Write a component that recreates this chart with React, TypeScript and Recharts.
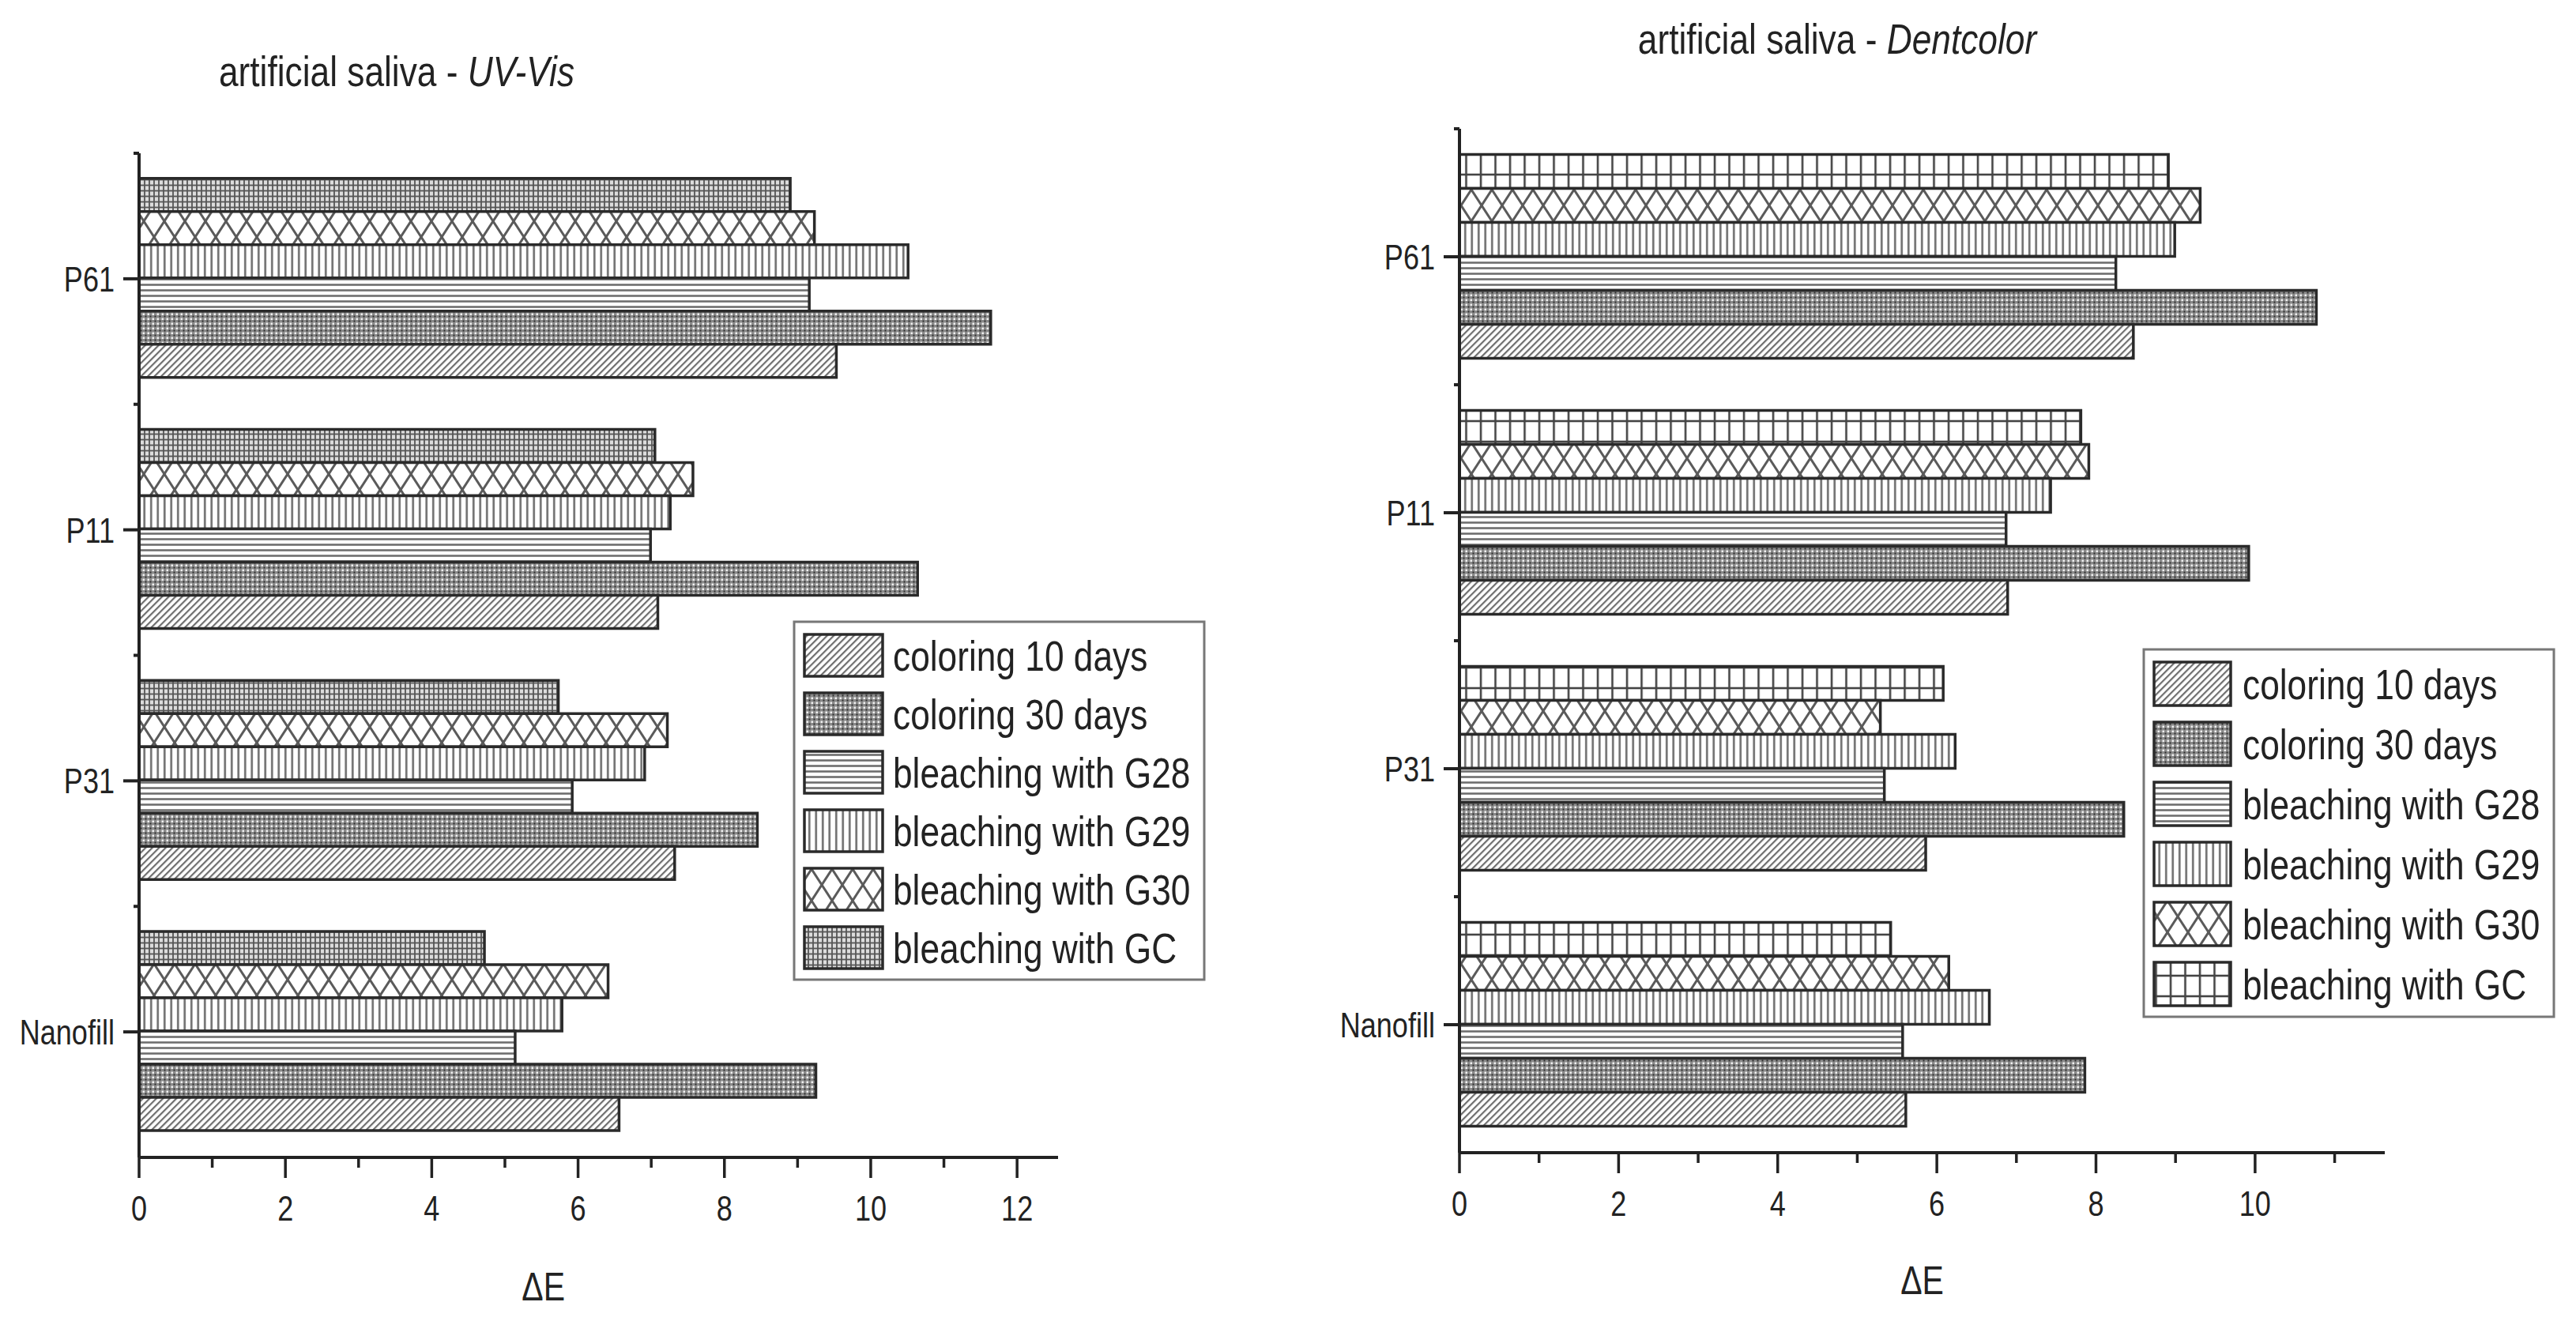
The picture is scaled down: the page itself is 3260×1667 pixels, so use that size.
import { BarChart, Bar, XAxis, YAxis, Label } from 'recharts';

const FONT = "'Liberation Sans', Arial, sans-serif";
const NARROW = 0.82; // Arial Narrow look, the narrow face is not installed
const INK = '#222';

// categories, top to bottom
const samples = ['P61', 'P11', 'P31', 'Nanofill'];

// artificial saliva - UV-Vis
const col10L = [9.53, 7.09, 7.32, 6.56];
const col30L = [11.64, 10.64, 8.45, 9.25];
const g28L = [9.16, 6.99, 5.92, 5.14];
const g29L = [10.51, 7.26, 6.91, 5.78];
const g30L = [9.23, 7.57, 7.22, 6.41];
const gcL = [8.9, 7.05, 5.73, 4.72];

// artificial saliva - Dentcolor
const col10R = [8.47, 6.89, 5.86, 5.61];
const col30R = [10.77, 9.92, 8.35, 7.86];
const g28R = [8.25, 6.87, 5.34, 5.57];
const g29R = [8.99, 7.43, 6.23, 6.66];
const g30R = [9.31, 7.91, 5.29, 6.15];
const gcR = [8.91, 7.81, 6.08, 5.42];

const ticksL = [0, 1, 2, 3, 4, 5, 6, 7, 8, 9, 10, 11, 12];
const ticksR = [0, 1, 2, 3, 4, 5, 6, 7, 8, 9, 10, 11];

// bar order inside a group, top to bottom
const barKeys = ['gc', 'g30', 'g29', 'g28', 'col30', 'col10'];
const legendKeys = ['col10', 'col30', 'g28', 'g29', 'g30', 'gc'];
const names: Record<string, string> = {
  col10: 'coloring 10 days',
  col30: 'coloring 30 days',
  g28: 'bleaching with G28',
  g29: 'bleaching with G29',
  g30: 'bleaching with G30',
  gc: 'bleaching with GC',
};

const build = (c10: number[], c30: number[], a: number[], b: number[], c: number[], d: number[]) =>
  samples.map((s, i) => ({ sample: s, col10: c10[i], col30: c30[i], g28: a[i], g29: b[i], g30: c[i], gc: d[i] }));

const dataL = build(col10L, col30L, g28L, g29L, g30L, gcL);
const dataR = build(col10R, col30R, g28R, g29R, g30R, gcR);

function NText({ x, y, size, anchor = 'start', baseline, children }: any) {
  return (
    <text
      transform={`translate(${x},${y}) scale(${NARROW},1)`}
      textAnchor={anchor}
      dominantBaseline={baseline}
      fontFamily={FONT}
      fontSize={size}
      fill={INK}
    >
      {children}
    </text>
  );
}

function Patterns({ p, wideGrid }: { p: string; wideGrid: boolean }) {
  return (
    <defs>
      <pattern id={`${p}-col10`} width={6} height={6} patternUnits="userSpaceOnUse" patternTransform="rotate(45)">
        <rect width={6} height={6} fill="#fff" />
        <line x1={1} y1={0} x2={1} y2={6} stroke="#6e6e6e" strokeWidth={2.4} />
      </pattern>
      <pattern id={`${p}-col30`} width={6} height={6} patternUnits="userSpaceOnUse">
        <rect width={6} height={6} fill="#8a8a8a" />
        <rect x={0.5} y={0.5} width={2.5} height={2.5} fill="#f0f0f0" />
        <rect x={3.5} y={3.5} width={2} height={2} fill="#2e2e2e" />
      </pattern>
      <pattern id={`${p}-g28`} width={10} height={7} patternUnits="userSpaceOnUse">
        <rect width={10} height={7} fill="#fff" />
        <line x1={0} y1={3.5} x2={10} y2={3.5} stroke="#6e6e6e" strokeWidth={2.6} />
      </pattern>
      <pattern id={`${p}-g29`} width={8.5} height={10} patternUnits="userSpaceOnUse">
        <rect width={8.5} height={10} fill="#fff" />
        <line x1={4.25} y1={0} x2={4.25} y2={10} stroke="#6e6e6e" strokeWidth={2.6} />
      </pattern>
      <pattern id={`${p}-g30`} width={26} height={40} patternUnits="userSpaceOnUse">
        <rect width={26} height={40} fill="#fff" />
        <line x1={0} y1={0} x2={26} y2={40} stroke="#5a5a5a" strokeWidth={3} />
        <line x1={26} y1={0} x2={0} y2={40} stroke="#5a5a5a" strokeWidth={3} />
      </pattern>
      {wideGrid ? (
        <pattern id={`${p}-gc`} width={18.5} height={26} patternUnits="userSpaceOnUse">
          <rect width={18.5} height={26} fill="#fff" />
          <line x1={9} y1={0} x2={9} y2={26} stroke="#444" strokeWidth={2.6} />
          <line x1={0} y1={13} x2={18.5} y2={13} stroke="#444" strokeWidth={2.6} />
        </pattern>
      ) : (
        <pattern id={`${p}-gc`} width={6} height={7} patternUnits="userSpaceOnUse">
          <rect width={6} height={7} fill="#dcdcdc" />
          <line x1={3} y1={0} x2={3} y2={7} stroke="#555" strokeWidth={1.8} />
          <line x1={0} y1={3.5} x2={6} y2={3.5} stroke="#555" strokeWidth={1.8} />
        </pattern>
      )}
    </defs>
  );
}

function XTick(props: any) {
  const { x, y, payload } = props;
  const major = payload.value % 2 === 0;
  return (
    <g>
      <line x1={x} y1={y} x2={x} y2={y + (major ? 26 : 13)} stroke={INK} strokeWidth={3.5} />
      {major && (
        <NText x={x} y={y + 80} size={44} anchor="middle">
          {payload.value}
        </NText>
      )}
    </g>
  );
}

function YTick(props: any) {
  const { x, y, payload, band } = props;
  return (
    <g>
      <line x1={x - 20} y1={y} x2={x} y2={y} stroke={INK} strokeWidth={4} />
      <line x1={x - 7} y1={y - band / 2} x2={x} y2={y - band / 2} stroke={INK} strokeWidth={4} />
      <NText x={x - 31} y={y + 16} size={44} anchor="end">
        {payload.value}
      </NText>
    </g>
  );
}

type PanelProps = {
  data: any[];
  p: string;
  wideGrid: boolean;
  left: number;
  width: number;
  top: number;
  axisW: number;
  axisH: number;
  right: number;
  max: number;
  ticks: number[];
  deltaFrac: number;
  deltaBase: number;
};

function Panel({ data, p, wideGrid, left, width, top, axisW, axisH, right, max, ticks, deltaFrac, deltaBase }: PanelProps) {
  const height = 1667;
  const band = (height - top - axisH) / samples.length;
  return (
    <div style={{ position: 'absolute', left, top: 0 }}>
      <BarChart
        layout="vertical"
        width={width}
        height={height}
        data={data}
        margin={{ top, right, bottom: 0, left: 0 }}
        barCategoryGap="10%"
        barGap={0}
      >
        <Patterns p={p} wideGrid={wideGrid} />
        <XAxis
          type="number"
          domain={[0, max]}
          ticks={ticks}
          allowDataOverflow
          interval={0}
          height={axisH}
          tickSize={0}
          tickMargin={0}
          tickLine={false}
          tick={<XTick />}
          axisLine={{ stroke: INK, strokeWidth: 4 }}
        >
          <Label
            content={({ viewBox }: any) => (
              <NText x={viewBox.x + viewBox.width * deltaFrac} y={viewBox.y + deltaBase} size={50} anchor="middle">
                ΔE
              </NText>
            )}
          />
        </XAxis>
        <YAxis
          type="category"
          dataKey="sample"
          width={axisW}
          interval={0}
          tickSize={0}
          tickMargin={0}
          tickLine={false}
          tick={<YTick band={band} />}
          axisLine={{ stroke: INK, strokeWidth: 4 }}
        />
        {barKeys.map((k) => (
          <Bar
            key={k}
            dataKey={k}
            name={names[k]}
            fill={`url(#${p}-${k})`}
            stroke="#2a2a2a"
            strokeWidth={3.5}
            isAnimationActive={false}
          />
        ))}
      </BarChart>
    </div>
  );
}

function LegendBox({ p, x, y, pitch, sw, sh }: { p: string; x: number; y: number; pitch: number; sw: number; sh: number }) {
  const h = pitch * (legendKeys.length - 1) + sh + 30;
  return (
    <g>
      <rect x={x} y={y} width={519} height={h} fill="#fff" stroke="#777" strokeWidth={3} />
      {legendKeys.map((k, i) => {
        const top = y + 16 + i * pitch;
        return (
          <g key={k}>
            <rect x={x + 13} y={top} width={sw} height={sh} fill={`url(#${p}-${k})`} stroke="#2a2a2a" strokeWidth={3.5} />
            <NText x={x + 125} y={top + sh / 2 + 19} size={54}>
              {names[k]}
            </NText>
          </g>
        );
      })}
    </g>
  );
}

export default function App() {
  return (
    <div style={{ position: 'absolute', left: 0, top: 0, width: 3260, height: 1667, background: '#fff', overflow: 'hidden' }}>
      <Panel
        data={dataL}
        p="L"
        wideGrid={false}
        left={0}
        width={1600}
        top={194}
        axisW={176}
        axisH={202}
        right={261}
        max={12.56}
        ticks={ticksL}
        deltaFrac={0.44}
        deltaBase={181}
      />
      <Panel
        data={dataR}
        p="R"
        wideGrid
        left={1680}
        width={1580}
        top={163}
        axisW={167}
        axisH={208}
        right={242}
        max={11.63}
        ticks={ticksR}
        deltaFrac={0.5}
        deltaBase={179}
      />
      <svg width={3260} height={1667} style={{ position: 'absolute', left: 0, top: 0, pointerEvents: 'none' }}>
        <NText x={502} y={109} size={54} anchor="middle">
          artificial saliva - <tspan fontStyle="italic">UV-Vis</tspan>
        </NText>
        <NText x={2325} y={68} size={54} anchor="middle">
          artificial saliva - <tspan fontStyle="italic">Dentcolor</tspan>
        </NText>
        <LegendBox p="L" x={1005} y={787} pitch={74} sw={99} sh={53} />
        <LegendBox p="R" x={2713} y={822} pitch={76} sw={97} sh={55} />
      </svg>
    </div>
  );
}
